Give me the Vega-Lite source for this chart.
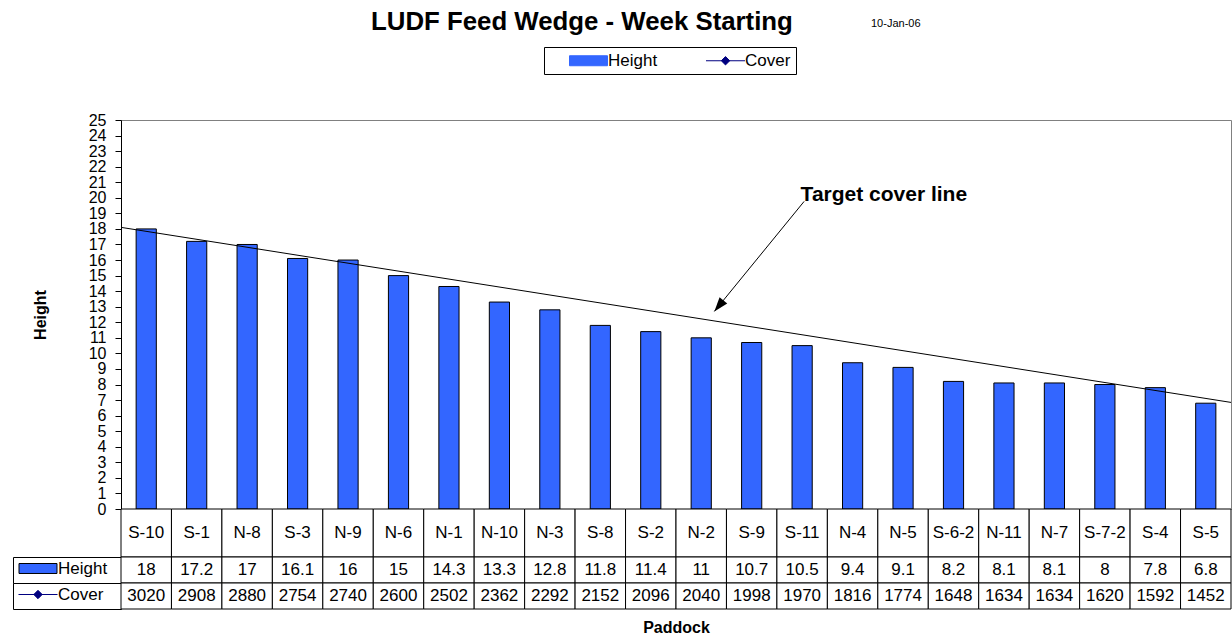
{
  "$schema": "https://vega.github.io/schema/vega-lite/v6.json",
  "background": "white",
  "padding": {"left": 12, "top": 8, "right": 0, "bottom": 0},
  "config": {
    "font": "Liberation Sans",
    "view": {"stroke": null},
    "axis": {"domainColor": "black", "tickColor": "black", "labelColor": "black", "titleColor": "black", "labelFont": "Liberation Sans", "titleFont": "Liberation Sans"},
    "legend": {"labelFont": "Liberation Sans", "labelColor": "black"},
    "title": {"font": "Liberation Sans", "color": "black"}
  },
  "datasets": {
    "paddocks": [
      {"paddock": "S-10", "height": 18, "cover": 3020},
      {"paddock": "S-1", "height": 17.2, "cover": 2908},
      {"paddock": "N-8", "height": 17, "cover": 2880},
      {"paddock": "S-3", "height": 16.1, "cover": 2754},
      {"paddock": "N-9", "height": 16, "cover": 2740},
      {"paddock": "N-6", "height": 15, "cover": 2600},
      {"paddock": "N-1", "height": 14.3, "cover": 2502},
      {"paddock": "N-10", "height": 13.3, "cover": 2362},
      {"paddock": "N-3", "height": 12.8, "cover": 2292},
      {"paddock": "S-8", "height": 11.8, "cover": 2152},
      {"paddock": "S-2", "height": 11.4, "cover": 2096},
      {"paddock": "N-2", "height": 11, "cover": 2040},
      {"paddock": "S-9", "height": 10.7, "cover": 1998},
      {"paddock": "S-11", "height": 10.5, "cover": 1970},
      {"paddock": "N-4", "height": 9.4, "cover": 1816},
      {"paddock": "N-5", "height": 9.1, "cover": 1774},
      {"paddock": "S-6-2", "height": 8.2, "cover": 1648},
      {"paddock": "N-11", "height": 8.1, "cover": 1634},
      {"paddock": "N-7", "height": 8.1, "cover": 1634},
      {"paddock": "S-7-2", "height": 8, "cover": 1620},
      {"paddock": "S-4", "height": 7.8, "cover": 1592},
      {"paddock": "S-5", "height": 6.8, "cover": 1452}
    ],
    "target": [
      {"pos": 0, "target": 18.1},
      {"pos": 22, "target": 6.85}
    ],
    "arrow": [
      {"pos": 13.54, "v": 19.77},
      {"pos": 11.76, "v": 12.7}
    ],
    "arrowhead": [
      {"pos": 11.76, "v": 12.7}
    ],
    "note": [
      {"pos": 13.47, "v": 19.77, "label": "Target cover line"}
    ]
  },
  "columns": 2,
  "spacing": 0,
  "bounds": "flush",
  "align": "each",
  "resolve": {"scale": {"color": "independent"}, "legend": {"color": "independent"}},
  "concat": [
    {
      "width": 108,
      "height": 389,
      "view": {"stroke": null},
      "title": {"text": "10-Jan-06", "anchor": "start", "frame": "group", "dx": 858, "fontSize": 11, "fontWeight": "normal", "baseline": "alphabetic", "offset": 82},
      "data": {"values": []},
      "mark": "point"
    },
    {
      "width": 1110,
      "height": 389,
      "title": {"text": "LUDF Feed Wedge - Week Starting", "anchor": "start", "frame": "group", "dx": 250, "fontSize": 25.8, "fontWeight": "bold", "baseline": "alphabetic", "offset": -9},
      "view": {"stroke": "#808080"},
      "resolve": {"scale": {"x": "independent"}},
      "layer": [
        {
          "data": {"name": "paddocks"},
          "mark": {"type": "bar", "width": {"band": 0.4}, "stroke": "black", "strokeWidth": 1},
          "encoding": {
            "x": {"field": "paddock", "type": "nominal", "sort": null, "scale": {"paddingInner": 0, "paddingOuter": 0}, "axis": null},
            "y": {"field": "height", "type": "quantitative", "scale": {"domain": [0, 25], "nice": false}, "axis": {"title": "Height", "tickCount": 25, "tickSize": 6, "labelPadding": 9, "labelFontSize": 16, "labelOverlap": false, "labelFlush": false, "titleFontSize": 16, "titleFontWeight": "bold", "titlePadding": 40, "grid": false}},
            "color": {
              "datum": "Height",
              "type": "nominal",
              "scale": {"domain": ["Height", "Cover"], "range": ["#3366FF", "#000080"]},
              "legend": {
                "title": null,
                "orient": "none",
                "legendX": 423,
                "legendY": -73,
                "direction": "horizontal",
                "strokeColor": "black",
                "fillColor": "white",
                "padding": 5,
                "symbolSize": 196,
                "symbolOffset": 31,
                "labelOffset": 11,
                "columnPadding": 28,
                "gridAlign": "all",
                "labelFontSize": 17,
                "encoding": {
                  "symbols": {
                    "shape": {"condition": {"test": "datum.value === 'Cover'", "value": "M-2.786,0H2.786M0,-0.6L0.6,0L0,0.6L-0.6,0Z"}, "value": "M-2.714,-0.714H2.714V0.714H-2.714Z"},
                    "fill": {"condition": {"test": "datum.value === 'Cover'", "value": "#000080"}, "value": "#3366FF"},
                    "stroke": {"condition": {"test": "datum.value === 'Cover'", "value": "#000080"}, "value": "black"},
                    "strokeWidth": {"value": 1},
                    "opacity": {"value": 1}
                  }
                }
              }
            }
          }
        },
        {
          "data": {"name": "paddocks"},
          "mark": {"type": "line", "clip": true, "strokeWidth": 1},
          "encoding": {
            "x": {"field": "paddock", "type": "nominal", "sort": null, "axis": null},
            "y": {"field": "cover", "type": "quantitative", "scale": {"domain": [0, 25], "nice": false}},
            "color": {"datum": "Cover", "type": "nominal"}
          }
        },
        {
          "data": {"name": "target"},
          "mark": {"type": "line", "color": "black", "strokeWidth": 1},
          "encoding": {
            "x": {"field": "pos", "type": "quantitative", "scale": {"domain": [0, 22], "nice": false, "zero": false}, "axis": null},
            "y": {"field": "target", "type": "quantitative", "scale": {"domain": [0, 25], "nice": false}}
          }
        },
        {
          "data": {"name": "arrow"},
          "mark": {"type": "line", "color": "black", "strokeWidth": 1},
          "encoding": {
            "x": {"field": "pos", "type": "quantitative", "scale": {"domain": [0, 22], "nice": false, "zero": false}, "axis": null},
            "y": {"field": "v", "type": "quantitative", "scale": {"domain": [0, 25], "nice": false}}
          }
        },
        {
          "data": {"name": "arrowhead"},
          "mark": {"type": "point", "shape": "M0,0L-0.45,-1.3L0.45,-1.3Z", "angle": 39.3, "size": 484, "filled": true, "color": "black", "opacity": 1},
          "encoding": {
            "x": {"field": "pos", "type": "quantitative", "scale": {"domain": [0, 22], "nice": false, "zero": false}, "axis": null},
            "y": {"field": "v", "type": "quantitative", "scale": {"domain": [0, 25], "nice": false}}
          }
        },
        {
          "data": {"name": "note"},
          "mark": {"type": "text", "align": "left", "baseline": "alphabetic", "fontSize": 21, "fontWeight": "bold", "color": "black"},
          "encoding": {
            "x": {"field": "pos", "type": "quantitative", "scale": {"domain": [0, 22], "nice": false, "zero": false}, "axis": null},
            "y": {"field": "v", "type": "quantitative", "scale": {"domain": [0, 25], "nice": false}},
            "text": {"field": "label"}
          }
        }
      ]
    },
    {
      "width": 108,
      "height": 48,
      "view": {"stroke": null},
      "data": {"values": []},
      "mark": "point"
    },
    {
      "width": 1110,
      "height": 48,
      "data": {"name": "paddocks"},
      "encoding": {"x": {"field": "paddock", "type": "nominal", "sort": null, "scale": {"paddingInner": 0, "paddingOuter": 0}, "axis": null}},
      "layer": [
        {"mark": {"type": "rect", "fill": "white", "stroke": "black", "strokeWidth": 1}},
        {"mark": {"type": "text", "fontSize": 17, "color": "black"}, "encoding": {"text": {"field": "paddock"}}}
      ]
    },
    {
      "width": 108,
      "height": 26,
      "view": {"stroke": "black", "fill": "white"},
      "data": {"values": [{"series": "Height"}]},
      "mark": {"type": "text", "text": ""},
      "encoding": {
        "color": {
          "field": "series",
          "type": "nominal",
          "scale": {"range": ["#3366FF"]},
          "legend": {
            "title": null,
            "orient": "none",
            "legendX": 0,
            "legendY": 0,
            "padding": 3,
            "symbolSize": 196,
            "symbolOffset": 13.5,
            "labelOffset": 11.5,
            "labelFontSize": 17,
            "encoding": {
              "symbols": {
                "shape": {"value": "M-2.714,-0.714H2.714V0.714H-2.714Z"},
                "fill": {"value": "#3366FF"},
                "stroke": {"value": "black"},
                "strokeWidth": {"value": 1},
                "opacity": {"value": 1}
              }
            }
          }
        }
      }
    },
    {
      "width": 1110,
      "height": 26,
      "data": {"name": "paddocks"},
      "encoding": {"x": {"field": "paddock", "type": "nominal", "sort": null, "scale": {"paddingInner": 0, "paddingOuter": 0}, "axis": null}},
      "layer": [
        {"mark": {"type": "rect", "fill": "white", "stroke": "black", "strokeWidth": 1}},
        {"mark": {"type": "text", "fontSize": 17, "color": "black"}, "encoding": {"text": {"field": "height", "type": "nominal"}}}
      ]
    },
    {
      "width": 108,
      "height": 26,
      "view": {"stroke": "black", "fill": "white"},
      "data": {"values": [{"series": "Cover"}]},
      "mark": {"type": "text", "text": ""},
      "encoding": {
        "color": {
          "field": "series",
          "type": "nominal",
          "scale": {"range": ["#000080"]},
          "legend": {
            "title": null,
            "orient": "none",
            "legendX": 0,
            "legendY": 0,
            "padding": 3,
            "symbolSize": 196,
            "symbolOffset": 13.5,
            "labelOffset": 11.5,
            "labelFontSize": 17,
            "encoding": {
              "symbols": {
                "shape": {"value": "M-2.786,0H2.786M0,-0.6L0.6,0L0,0.6L-0.6,0Z"},
                "fill": {"value": "#000080"},
                "stroke": {"value": "#000080"},
                "strokeWidth": {"value": 1},
                "opacity": {"value": 1}
              }
            }
          }
        }
      }
    },
    {
      "width": 1110,
      "height": 26,
      "data": {"name": "paddocks"},
      "encoding": {"x": {"field": "paddock", "type": "nominal", "sort": null, "scale": {"paddingInner": 0, "paddingOuter": 0}, "axis": {"title": "Paddock", "labels": false, "ticks": false, "domain": false, "titleFontSize": 16, "titleFontWeight": "bold", "titlePadding": 10}}},
      "layer": [
        {"mark": {"type": "rect", "fill": "white", "stroke": "black", "strokeWidth": 1}},
        {"mark": {"type": "text", "fontSize": 17, "color": "black"}, "encoding": {"text": {"field": "cover", "type": "nominal"}}}
      ]
    }
  ]
}
